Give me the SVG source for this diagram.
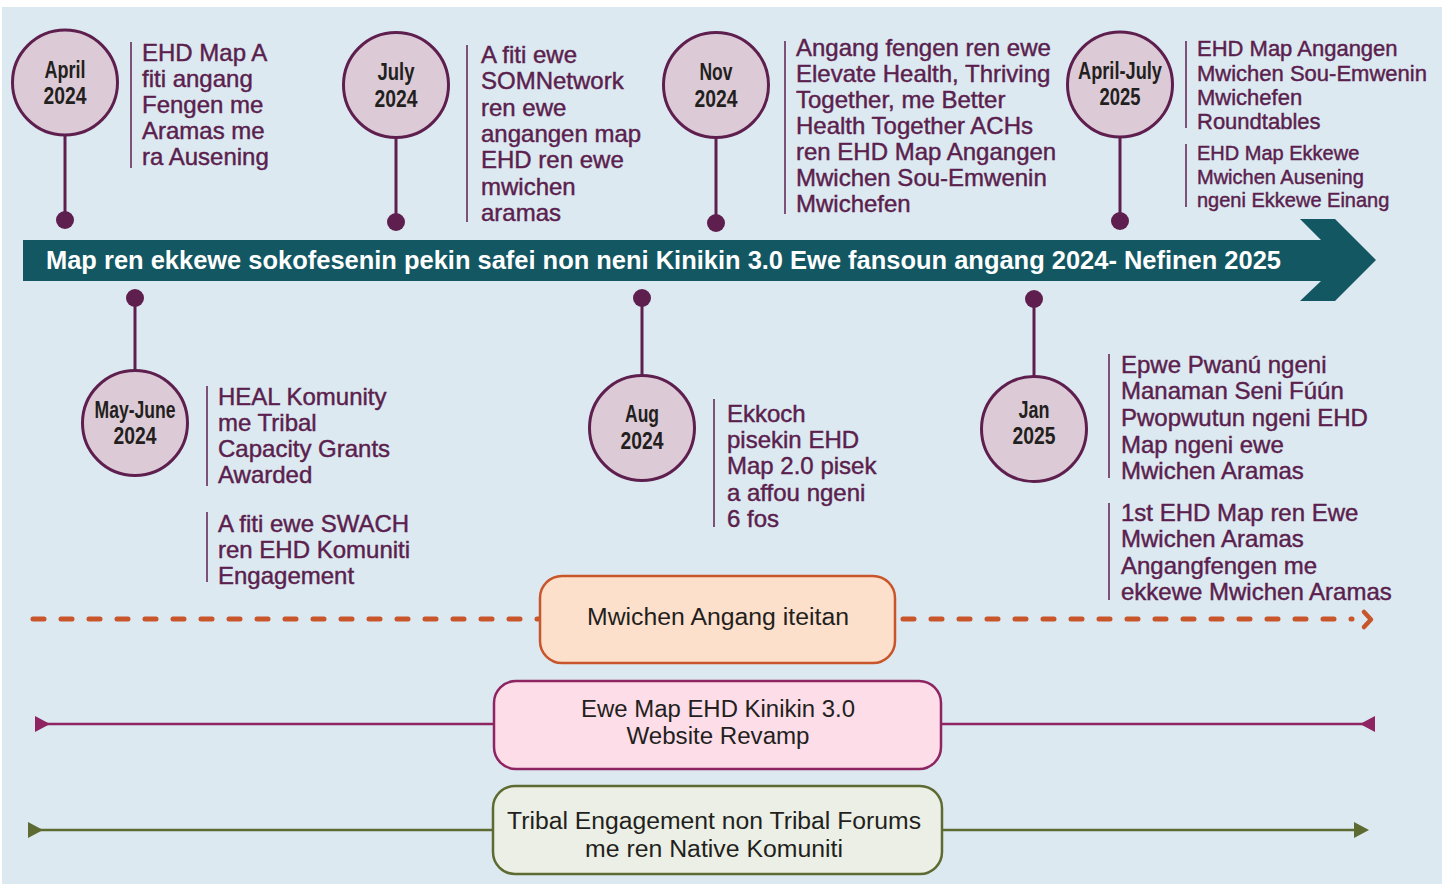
<svg xmlns="http://www.w3.org/2000/svg" width="1448" height="884" viewBox="0 0 1448 884">
<defs>
<style>
.bg{fill:#dce9f1}
.ring{fill:#dccbd6;stroke:#5e1f4f;stroke-width:3}
.stem{stroke:#5e1f4f;stroke-width:3}
.dot{fill:#5e1f4f}
.sep{stroke:#5e1f4f;stroke-width:1.5}
.lbl{font-family:"Liberation Sans",Arial,sans-serif;font-weight:bold;font-size:23px;fill:#231f20;text-anchor:middle}
.desc{font-family:"Liberation Sans",Arial,sans-serif;font-size:24px;fill:#5b1f4e;stroke:#5b1f4e;stroke-width:0.45}
.desc21{font-size:22px}
.desc20{font-size:20px}
.banner{font-family:"Liberation Sans",Arial,sans-serif;font-weight:bold;font-size:26px;fill:#ffffff}
.box{font-family:"Liberation Sans",Arial,sans-serif;font-size:23px;fill:#231f20;text-anchor:middle}
</style>
</defs>
<rect class="bg" x="2" y="7" width="1440" height="877"/>

<g id="timeline">
<polygon points="23,240 1321,240 1300,219 1335,219 1376,260 1335,301 1300,301 1321,281 23,281" fill="#135763"/>
<text class="banner" x="46" y="269" textLength="1235" lengthAdjust="spacingAndGlyphs">Map ren ekkewe sokofesenin pekin safei non neni Kinikin 3.0 Ewe fansoun angang 2024- Nefinen 2025</text>
</g>

<g id="connectors">
<line class="stem" x1="65" y1="135" x2="65" y2="220"/>
<circle class="dot" cx="65" cy="220" r="9"/>
<line class="stem" x1="396" y1="138" x2="396" y2="222"/>
<circle class="dot" cx="396" cy="222" r="9"/>
<line class="stem" x1="716" y1="138" x2="716" y2="223"/>
<circle class="dot" cx="716" cy="223" r="9"/>
<line class="stem" x1="1120" y1="137" x2="1120" y2="221"/>
<circle class="dot" cx="1120" cy="221" r="9"/>
<line class="stem" x1="135" y1="298" x2="135" y2="370"/>
<circle class="dot" cx="135" cy="298" r="9"/>
<line class="stem" x1="642" y1="298" x2="642" y2="375"/>
<circle class="dot" cx="642" cy="298" r="9"/>
<line class="stem" x1="1034" y1="299" x2="1034" y2="377"/>
<circle class="dot" cx="1034" cy="299" r="9"/>

<line x1="33" y1="619" x2="542" y2="619" stroke="#c9552a" stroke-width="5" stroke-linecap="round" stroke-dasharray="11 17"/>
<line x1="903" y1="619" x2="1352" y2="619" stroke="#c9552a" stroke-width="5" stroke-linecap="round" stroke-dasharray="11 17"/>
<polyline points="1364,612 1371,619.5 1364,627" fill="none" stroke="#c9552a" stroke-width="4.5" stroke-linecap="round" stroke-linejoin="round"/>

<line x1="36" y1="724" x2="494" y2="724" stroke="#8e2462" stroke-width="2.5"/>
<line x1="941" y1="724" x2="1374" y2="724" stroke="#8e2462" stroke-width="2.5"/>
<polygon points="35,716 50,724 35,732" fill="#8e2462"/>
<polygon points="1375,716 1360,724 1375,732" fill="#8e2462"/>

<line x1="29" y1="830" x2="493" y2="830" stroke="#5d6b32" stroke-width="2.5"/>
<line x1="942" y1="830" x2="1360" y2="830" stroke="#5d6b32" stroke-width="2.5"/>
<polygon points="28,822 43,830 28,838" fill="#5d6b32"/>
<polygon points="1354,822 1369,830 1354,838" fill="#5d6b32"/>
</g>

<g id="n-apr2024">
<circle class="ring" cx="65" cy="82.5" r="52.5"/>
<text class="lbl" x="65" y="78" textLength="41" lengthAdjust="spacingAndGlyphs">April</text>
<text class="lbl" x="65" y="104" textLength="43" lengthAdjust="spacingAndGlyphs">2024</text>
<line class="sep" x1="131" y1="42" x2="131" y2="168"/>
<text class="desc"><tspan x="142" y="61">EHD Map A</tspan><tspan x="142" y="87">fiti angang</tspan><tspan x="142" y="113">Fengen me</tspan><tspan x="142" y="139">Aramas me</tspan><tspan x="142" y="165">ra Ausening</tspan></text>
</g>

<g id="n-jul2024">
<circle class="ring" cx="396" cy="85" r="52.5"/>
<text class="lbl" x="396" y="80" textLength="37" lengthAdjust="spacingAndGlyphs">July</text>
<text class="lbl" x="396" y="107" textLength="43" lengthAdjust="spacingAndGlyphs">2024</text>
<line class="sep" x1="467" y1="45" x2="467" y2="222"/>
<text class="desc"><tspan x="481" y="63">A fiti ewe</tspan><tspan x="481" y="89">SOMNetwork</tspan><tspan x="481" y="115.5">ren ewe</tspan><tspan x="481" y="142">angangen map</tspan><tspan x="481" y="168">EHD ren ewe</tspan><tspan x="481" y="194.5">mwichen</tspan><tspan x="481" y="221">aramas</tspan></text>
</g>

<g id="n-nov2024">
<circle class="ring" cx="716" cy="85" r="52.5"/>
<text class="lbl" x="716" y="80" textLength="33" lengthAdjust="spacingAndGlyphs">Nov</text>
<text class="lbl" x="716" y="107" textLength="43" lengthAdjust="spacingAndGlyphs">2024</text>
<line class="sep" x1="785" y1="41" x2="785" y2="214"/>
<text class="desc"><tspan x="796" y="56">Angang fengen ren ewe</tspan><tspan x="796" y="82">Elevate Health, Thriving</tspan><tspan x="796" y="108">Together, me Better</tspan><tspan x="796" y="134">Health Together ACHs</tspan><tspan x="796" y="160">ren EHD Map Angangen</tspan><tspan x="796" y="186">Mwichen Sou-Emwenin</tspan><tspan x="796" y="212">Mwichefen</tspan></text>
</g>

<g id="n-aprjul2025">
<circle class="ring" cx="1120" cy="84.5" r="52.5"/>
<text class="lbl" x="1120" y="79" textLength="84" lengthAdjust="spacingAndGlyphs">April-July</text>
<text class="lbl" x="1120" y="105" textLength="41" lengthAdjust="spacingAndGlyphs">2025</text>
<line class="sep" x1="1186" y1="41" x2="1186" y2="128"/>
<text class="desc desc21"><tspan x="1197" y="56">EHD Map Angangen</tspan><tspan x="1197" y="81">Mwichen Sou-Emwenin</tspan><tspan x="1197" y="105">Mwichefen</tspan><tspan x="1197" y="129">Roundtables</tspan></text>
<line class="sep" x1="1186" y1="144" x2="1186" y2="207"/>
<text class="desc desc20"><tspan x="1197" y="160">EHD Map Ekkewe</tspan><tspan x="1197" y="184">Mwichen Ausening</tspan><tspan x="1197" y="207">ngeni Ekkewe Einang</tspan></text>
</g>

<g id="n-mayjun2024">
<circle class="ring" cx="135" cy="423" r="52.5"/>
<text class="lbl" x="135" y="418" textLength="81" lengthAdjust="spacingAndGlyphs">May-June</text>
<text class="lbl" x="135" y="444" textLength="43" lengthAdjust="spacingAndGlyphs">2024</text>
<line class="sep" x1="207" y1="386" x2="207" y2="486"/>
<text class="desc"><tspan x="218" y="405">HEAL Komunity</tspan><tspan x="218" y="431">me Tribal</tspan><tspan x="218" y="457">Capacity Grants</tspan><tspan x="218" y="483">Awarded</tspan></text>
<line class="sep" x1="207" y1="512" x2="207" y2="582"/>
<text class="desc"><tspan x="218" y="532">A fiti ewe SWACH</tspan><tspan x="218" y="558">ren EHD Komuniti</tspan><tspan x="218" y="584">Engagement</tspan></text>
</g>

<g id="n-aug2024">
<circle class="ring" cx="642" cy="428" r="52.5"/>
<text class="lbl" x="642" y="422" textLength="34" lengthAdjust="spacingAndGlyphs">Aug</text>
<text class="lbl" x="642" y="449" textLength="43" lengthAdjust="spacingAndGlyphs">2024</text>
<line class="sep" x1="714" y1="399" x2="714" y2="527"/>
<text class="desc"><tspan x="727" y="422">Ekkoch</tspan><tspan x="727" y="448">pisekin EHD</tspan><tspan x="727" y="474">Map 2.0 pisek</tspan><tspan x="727" y="501">a affou ngeni</tspan><tspan x="727" y="527">6 fos</tspan></text>
</g>

<g id="n-jan2025">
<circle class="ring" cx="1034" cy="429" r="52.5"/>
<text class="lbl" x="1034" y="418" textLength="31" lengthAdjust="spacingAndGlyphs">Jan</text>
<text class="lbl" x="1034" y="444" textLength="43" lengthAdjust="spacingAndGlyphs">2025</text>
<line class="sep" x1="1109" y1="354" x2="1109" y2="478"/>
<text class="desc"><tspan x="1121" y="373">Epwe Pwanú ngeni</tspan><tspan x="1121" y="399">Manaman Seni Fúún</tspan><tspan x="1121" y="426">Pwopwutun ngeni EHD</tspan><tspan x="1121" y="453">Map ngeni ewe</tspan><tspan x="1121" y="479">Mwichen Aramas</tspan></text>
<line class="sep" x1="1109" y1="503" x2="1109" y2="600"/>
<text class="desc"><tspan x="1121" y="521">1st EHD Map ren Ewe</tspan><tspan x="1121" y="547">Mwichen Aramas</tspan><tspan x="1121" y="574">Angangfengen me</tspan><tspan x="1121" y="600">ekkewe Mwichen Aramas</tspan></text>
</g>

<g id="b-angang">
<rect x="540" y="576" width="355" height="87" rx="22" fill="#fde0cc" stroke="#c9552a" stroke-width="2.5"/>
<text class="box" x="718" y="625" textLength="262" lengthAdjust="spacingAndGlyphs">Mwichen Angang iteitan</text>
</g>

<g id="b-website">
<rect x="494" y="681" width="447" height="88" rx="22" fill="#fcdde8" stroke="#8e2462" stroke-width="2.5"/>
<text class="box" x="718" y="717" textLength="274" lengthAdjust="spacingAndGlyphs">Ewe Map EHD Kinikin 3.0</text>
<text class="box" x="718" y="744" textLength="183" lengthAdjust="spacingAndGlyphs">Website Revamp</text>
</g>

<g id="b-tribal">
<rect x="493" y="786" width="449" height="88" rx="22" fill="#ebefe5" stroke="#5d6b32" stroke-width="2.5"/>
<text class="box" x="714" y="829" textLength="414" lengthAdjust="spacingAndGlyphs">Tribal Engagement non Tribal Forums</text>
<text class="box" x="714" y="857" textLength="258" lengthAdjust="spacingAndGlyphs">me ren Native Komuniti</text>
</g>
</svg>
